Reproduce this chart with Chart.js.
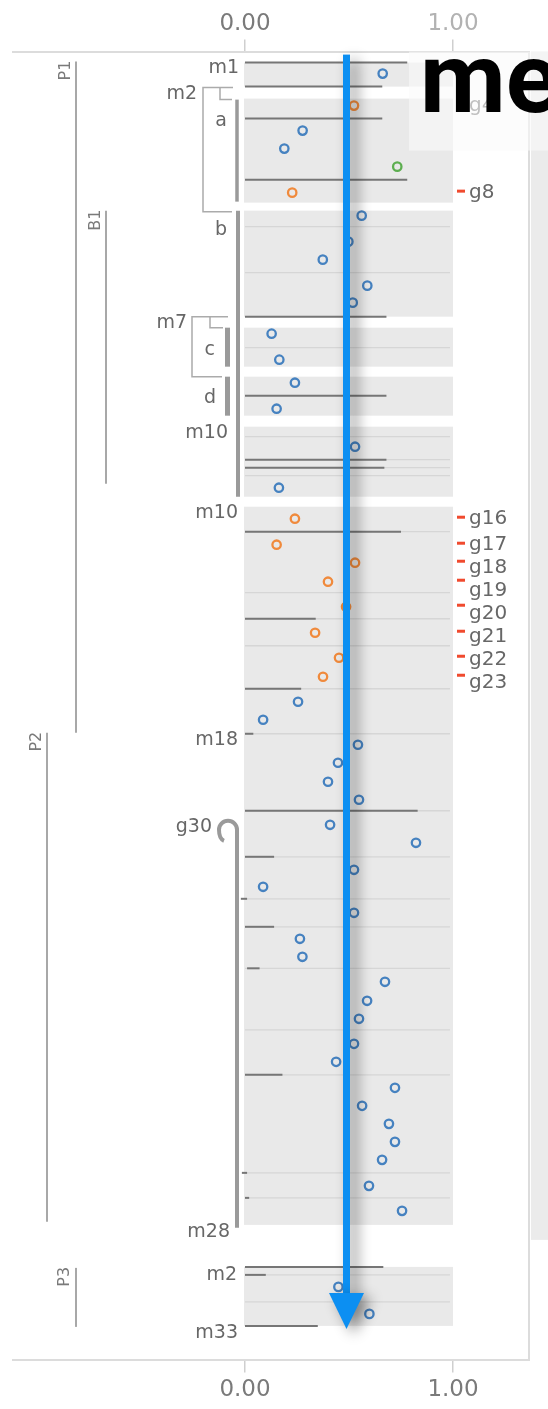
<!DOCTYPE html>
<html>
<head>
<meta charset="utf-8">
<script src="https://cdn.jsdelivr.net/npm/chart.js@4"></script>
<style>
  html, body { margin: 0; padding: 0; background: #fff; overflow: hidden; }
  canvas { display: block; }
</style>
</head>
<body>
<canvas id="map" width="548" height="1409"></canvas>
<script>
// Frequency axis ticks
const tickValues = [0, 1];

// Markers along the map: position (top = 0) and allele frequency
const bluePos = [2.2, 7.9, 9.7, 16.4, 19.0, 20.8, 23.4, 25.1, 28.2, 30.8, 33.1, 35.7, 39.5, 43.6,
  65.0, 66.8, 69.3, 71.1, 73.0, 74.8, 77.3, 79.1, 81.8, 83.5, 86.1, 88.7, 90.5, 93.0, 94.9, 96.7,
  99.2, 101.0, 103.6, 105.4, 107.2, 109.0, 110.8, 113.4, 115.9, 123.5, 126.2];
const blueFreq = [0.662, 0.277, 0.189, 0.561, 0.497, 0.374, 0.588, 0.518, 0.128, 0.165, 0.240, 0.152, 0.529, 0.163,
  0.255, 0.087, 0.543, 0.447, 0.399, 0.548, 0.409, 0.822, 0.524, 0.087, 0.524, 0.264, 0.276, 0.673, 0.587, 0.548,
  0.524, 0.438, 0.721, 0.563, 0.692, 0.721, 0.659, 0.596, 0.755, 0.449, 0.598];

// Flagged markers (orange) with their names
const flaggedNames = ['g4', 'g8', 'g16', 'g17', 'g18', 'g19', 'g20', 'g21', 'g22', 'g23'];
const flaggedPos = [5.4, 14.1, 46.7, 49.3, 51.1, 53.0, 55.5, 58.1, 60.6, 62.5];
const flaggedFreq = [0.524, 0.227, 0.240, 0.152, 0.529, 0.399, 0.486, 0.337, 0.452, 0.375];

// Reference marker (green)
const refPos = [11.5];
const refFreq = [0.732];

// Linkage blocks (shaded)
const blockStart = [1.1, 4.7, 15.9, 27.6, 32.5, 37.5, 45.5, 121.5];
const blockEnd = [3.5, 15.1, 26.5, 31.5, 36.4, 44.5, 117.3, 127.4];

// Anchor lines: position, start and end on the frequency axis
const anchorPos = [1.1, 3.5, 6.7, 12.8, 26.5, 34.4, 40.8, 41.6, 48.0, 56.7, 63.7, 68.2, 75.9, 80.5, 84.7, 87.5, 91.65, 102.3, 112.1, 114.6, 121.5, 122.3, 127.4];
const anchorFrom = [0, 0, 0, 0, 0, 0, 0, 0, 0, 0, 0, 0, 0, 0, -0.02, 0, 0.01, 0, -0.015, 0, 0, 0, 0];
const anchorTo = [0.78, 0.66, 0.66, 0.78, 0.68, 0.68, 0.68, 0.67, 0.75, 0.34, 0.27, 0.04, 0.83, 0.14, 0.01, 0.14, 0.07, 0.18, 0.01, 0.02, 0.665, 0.10, 0.35];

// Interval dividers inside blocks
const dividerPos = [17.5, 22.1, 29.6, 38.5, 40.8, 41.6, 42.4, 48.0, 54.1, 56.7, 59.4, 63.7, 68.2, 75.9, 80.5, 84.7, 87.5, 91.65, 97.8, 102.3, 112.1, 114.6, 122.3, 125.0];

// Map labels on the left
const markerNames = ['m1', 'm2', 'a', 'b', 'm7', 'c', 'd', 'm10', 'm10', 'm18', 'g30', 'm28', 'm2', 'm33'];
const markerNamePos = [1.6, 4.2, 6.9, 17.8, 27.1, 29.8, 34.6, 38.1, 46.1, 68.8, 77.5, 118.0, 122.3, 128.1];

// Groups
const groupNames = ['P1', 'B1', 'P2', 'P3'];
const groupStart = [1.0, 15.9, 68.1, 121.6];
const groupEnd = [68.1, 43.2, 117.0, 127.5];

// Mean frequency arrow
const meanFreq = [0.488];

// ---- layout (pixel offsets from the 0 frequency line) ----
const nameDx = [-6, -48, -18, -18, -58, -30, -29, -17, -7, -7, -33, -15, -8, -7];
const groupLineDx = [-169, -139, -198, -169];
const groupLabelDx = [-179, -149, -208, -180];

const toPoints = (pos, freq) => pos.map((p, i) => ({ x: freq[i], y: p }));

const labelFont = '19px "DejaVu Sans"';

const mapDecor = {
  id: 'mapDecor',
  beforeDraw(chart) {
    const { ctx, chartArea: a, scales } = chart;
    const Y = v => scales.y.getPixelForValue(v);
    ctx.save();
    ctx.fillStyle = '#ebebeb';
    ctx.fillRect(a.right + 2, a.top, chart.width - a.right - 2, Y(118.8) - a.top);
    ctx.restore();
  },
  beforeDatasetsDraw(chart) {
    const { ctx, scales } = chart;
    const X = v => scales.x.getPixelForValue(v);
    const Y = v => scales.y.getPixelForValue(v);
    const x0 = X(0), x1 = X(1);
    ctx.save();

    // shaded blocks
    ctx.fillStyle = '#e9e9e9';
    blockStart.forEach((s, i) => ctx.fillRect(x0 - 1, Y(s), x1 - x0 + 1, Y(blockEnd[i]) - Y(s)));

    // dividers
    ctx.strokeStyle = '#d6d6d6';
    ctx.lineWidth = 1.3;
    dividerPos.forEach(p => {
      ctx.beginPath(); ctx.moveTo(x0, Y(p)); ctx.lineTo(x1 - 3, Y(p)); ctx.stroke();
    });

    // anchor lines
    ctx.strokeStyle = '#767676';
    ctx.lineWidth = 2;
    anchorPos.forEach((p, i) => {
      ctx.beginPath(); ctx.moveTo(X(anchorFrom[i]), Y(p)); ctx.lineTo(X(anchorTo[i]), Y(p)); ctx.stroke();
    });

    // brackets
    ctx.strokeStyle = '#ababab';
    ctx.lineWidth = 1.5;
    const poly = pts => {
      ctx.beginPath();
      pts.forEach(([dx, p], k) => k ? ctx.lineTo(x0 + dx, Y(p)) : ctx.moveTo(x0 + dx, Y(p)));
      ctx.stroke();
    };
    poly([[-12, 3.6], [-42, 3.6], [-42, 16.0], [-13, 16.0]]);
    poly([[-25, 3.6], [-25, 4.8], [-13, 4.8]]);
    poly([[-17, 26.5], [-53, 26.5], [-53, 32.5], [-23, 32.5]]);
    poly([[-35, 26.5], [-35, 27.6], [-22, 27.6]]);

    // group lines
    ctx.strokeStyle = '#a8a8a8';
    ctx.lineWidth = 2;
    groupNames.forEach((g, i) => {
      ctx.beginPath();
      ctx.moveTo(x0 + groupLineDx[i], Y(groupStart[i]));
      ctx.lineTo(x0 + groupLineDx[i], Y(groupEnd[i]));
      ctx.stroke();
    });

    // thick interval bars
    ctx.strokeStyle = '#9a9a9a';
    ctx.lineCap = 'butt';
    const bar = (dx, s, e, w) => {
      ctx.lineWidth = w;
      ctx.beginPath(); ctx.moveTo(x0 + dx, Y(s)); ctx.lineTo(x0 + dx, Y(e)); ctx.stroke();
    };
    bar(-8, 4.8, 15.0, 3.5);
    bar(-7, 15.9, 44.5, 4);
    bar(-17.5, 27.6, 31.5, 5);
    bar(-17.5, 32.5, 36.4, 5);
    // g30 crook
    const gx = x0 - 8, yc = Y(77.8);
    ctx.lineWidth = 4;
    ctx.beginPath();
    ctx.moveTo(gx, Y(117.6));
    ctx.lineTo(gx, yc);
    ctx.arc(gx - 9, yc, 9, 0, Math.PI, true);
    ctx.quadraticCurveTo(gx - 18, yc + 9, gx - 13, yc + 11);
    ctx.stroke();

    // left labels
    ctx.fillStyle = '#676767';
    ctx.font = labelFont;
    ctx.textAlign = 'right';
    ctx.textBaseline = 'middle';
    markerNames.forEach((n, i) => ctx.fillText(n, x0 + nameDx[i], Y(markerNamePos[i])));

    // group labels (rotated)
    ctx.fillStyle = '#7a7a7a';
    ctx.font = '16px "DejaVu Sans"';
    groupNames.forEach((g, i) => {
      ctx.save();
      ctx.translate(x0 + groupLabelDx[i], Y(groupStart[i]) - 1);
      ctx.rotate(-Math.PI / 2);
      ctx.textAlign = 'right';
      ctx.textBaseline = 'middle';
      ctx.fillText(g, 0, 0);
      ctx.restore();
    });

    // flagged marker tags on the right
    ctx.font = '20px "DejaVu Sans"';
    ctx.textAlign = 'left';
    ctx.textBaseline = 'middle';
    let prev = -Infinity;
    flaggedNames.forEach((n, i) => {
      const yd = Y(flaggedPos[i]) - 1.5;
      ctx.fillStyle = '#f04a2e';
      ctx.fillRect(x1 + 4, yd - 1.5, 8, 3);
      const yl = Math.max(yd + 2, prev + 23);
      prev = yl;
      ctx.fillStyle = '#676767';
      ctx.fillText(n, x1 + 16, yl);
    });
    ctx.restore();
  },
  afterDatasetsDraw(chart) {
    const { ctx, scales } = chart;
    const X = v => scales.x.getPixelForValue(v);
    const Y = v => scales.y.getPixelForValue(v);
    const ax = X(meanFreq[0]);
    const top = Y(0.3), tip = Y(127.7);
    ctx.save();
    ctx.shadowColor = 'rgba(0,0,0,0.45)';
    ctx.shadowBlur = 14;
    ctx.shadowOffsetX = 7;
    ctx.shadowOffsetY = 5;
    ctx.fillStyle = '#0c8ff2';
    ctx.fillRect(ax - 3.5, top, 7, tip - top - 30);
    ctx.beginPath();
    ctx.moveTo(ax - 17.5, tip - 36);
    ctx.lineTo(ax + 17.5, tip - 36);
    ctx.lineTo(ax, tip);
    ctx.closePath();
    ctx.fill();
    ctx.restore();
  },
  afterDraw(chart) {
    const { ctx, chartArea: a } = chart;
    ctx.save();
    ctx.fillStyle = 'rgba(250,250,250,0.6)';
    ctx.fillRect(409, a.top, chart.width - 409, 99);
    ctx.fillStyle = '#000';
    ctx.font = '700 99px Roboto';
    ctx.textAlign = 'left';
    ctx.textBaseline = 'alphabetic';
    ctx.fillText('me', 420, 112);
    ctx.restore();
  }
};

const axisCommon = {
  type: 'linear',
  axis: 'x',
  min: -1.1154,
  max: 1.3654,
  afterBuildTicks: s => { s.ticks = tickValues.map(v => ({ value: v })); },
  grid: { display: true, drawOnChartArea: false, drawTicks: true, tickLength: 12, color: '#cfcfcf', lineWidth: 1.5 },
  border: { display: true, color: '#dcdcdc', width: 2 }
};

new Chart(document.getElementById('map'), {
  type: 'scatter',
  data: {
    datasets: [
      { data: toPoints(bluePos, blueFreq), borderColor: '#4682c0' },
      { data: toPoints(flaggedPos, flaggedFreq), borderColor: '#f08a3c' },
      { data: toPoints(refPos, refFreq), borderColor: '#5dae50' }
    ]
  },
  options: {
    responsive: false,
    animation: false,
    devicePixelRatio: 1,
    layout: { padding: { left: 13, right: 19, top: 8, bottom: 2 } },
    elements: { point: { radius: 4.2, borderWidth: 2.3, backgroundColor: 'rgba(0,0,0,0)', pointStyle: 'circle' } },
    plugins: { legend: { display: false }, tooltip: { enabled: false } },
    scales: {
      x: Object.assign({}, axisCommon, {
        position: 'top',
        ticks: {
          padding: 2, autoSkip: false, maxRotation: 0,
          callback: v => Number(v).toFixed(2),
          font: { family: 'DejaVu Sans', size: 23 },
          color: c => (c.tick && c.tick.value === 1) ? '#b2b2b2' : '#7a7a7a'
        }
      }),
      x2: Object.assign({}, axisCommon, {
        position: 'bottom',
        ticks: {
          padding: 3.5, autoSkip: false, maxRotation: 0,
          callback: v => Number(v).toFixed(2),
          font: { family: 'DejaVu Sans', size: 23 },
          color: '#7a7a7a'
        }
      }),
      y: { type: 'linear', reverse: true, min: 0, max: 130.85, display: false },
      y2: {
        type: 'linear', axis: 'y', position: 'right', display: true,
        ticks: { display: false },
        grid: { display: true, drawOnChartArea: false, drawTicks: false },
        border: { display: true, color: '#dcdcdc', width: 2 }
      }
    }
  },
  plugins: [mapDecor]
});
</script>
</body>
</html>
